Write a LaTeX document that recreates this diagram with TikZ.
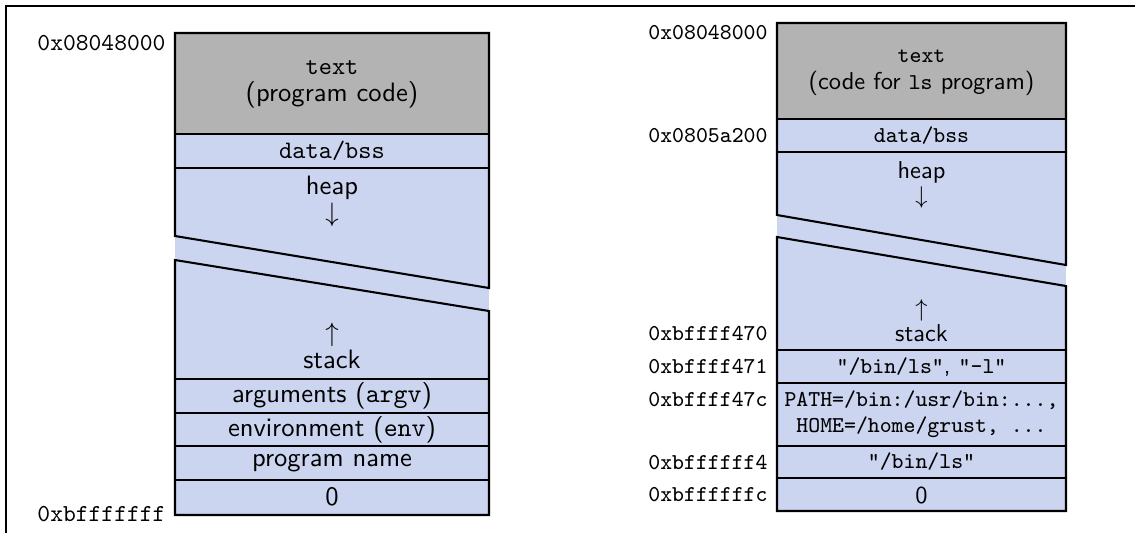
\documentclass[tikz,border=0pt]{standalone}
\definecolor{memblue}{RGB}{203,213,240}
\definecolor{memgray}{RGB}{179,179,179}
\newcommand{\rsz}{\fontsize{9.3}{11}\selectfont}
\newcommand{\lsf}{\fontsize{10.9}{11}\selectfont\sffamily}
\newcommand{\rsf}{\fontsize{10}{10.3}\selectfont\sffamily}
\begin{document}
\begin{tikzpicture}[x=0.41pt,y=-0.41pt,
  outline/.style={line width=0.85pt, line join=miter},
  sep/.style={line width=0.45pt},
  frameline/.style={line width=0.45pt},
  lbl/.style={anchor=east, inner sep=0pt, font=\ttfamily},
  rlbl/.style={anchor=east, inner sep=0pt, font=\rsz\ttfamily},
  seg/.style={inner sep=0pt, font=\lsf, align=center},
  rseg/.style={inner sep=0pt, font=\rsf, align=center},
  segtt/.style={inner sep=0pt, font=\fontsize{10.3}{12}\selectfont\ttfamily, align=center},
  rsegtt/.style={inner sep=0pt, font=\rsz\ttfamily, align=center}]
\useasboundingbox (0,0) rectangle (1135,533);
% page frame
\coordinate (fa) at (6,533);
\coordinate (fb) at (6,6);
\coordinate (fc) at (1135,6);
\draw[frameline] (fa) -- (fb) -- (fc);

% ===== left diagram =====
\fill[memblue] (175,134) rectangle (489,515);
\fill[memgray] (175,33) rectangle (489,134);
\draw[outline] (175,236) -- (175,33) -- (489,33) -- (489,288) -- cycle;
\draw[outline] (175,134) -- (489,134);
\draw[outline] (175,168) -- (489,168);
\draw[outline] (175,260) -- (175,515) -- (489,515) -- (489,311) -- cycle;
\foreach \yy in {379,413,446,480} \draw[sep] (175,\yy) -- (489,\yy);

\node[segtt] (ltext1) at (332,68) {text};
\node[seg] (ltext2) at (332,95) {(program code)};
\node[segtt] (ldata) at (332,151) {data/bss};
\node[seg] (lheap) at (332,201) {heap\\$\downarrow$};
\node[seg] (lstack) at (332,346) {$\uparrow$\\stack};
\node[seg] (largs) at (332,396) {arguments (\texttt{argv})};
\node[seg] (lenv) at (332,430) {environment (\texttt{env})};
\node[seg] (lprog) at (332,463) {program name};
\node[seg] (lzero) at (332,497) {0};

\node[lbl] (la1) at (166,43) {0x08048000};
\node[lbl] (la2) at (166,514) {0xbfffffff};

% ===== right diagram =====
\fill[memblue] (777,119) rectangle (1066,511);
\fill[memgray] (777,23) rectangle (1066,119);
\draw[outline] (777,215) -- (777,23) -- (1066,23) -- (1066,265) -- cycle;
\draw[outline] (777,119) -- (1066,119);
\draw[outline] (777,152) -- (1066,152);
\draw[outline] (777,237) -- (777,511) -- (1066,511) -- (1066,286) -- cycle;
\foreach \yy in {350,383,446,478} \draw[sep] (777,\yy) -- (1066,\yy);

\node[rsegtt] (rtext1) at (921.5,56) {text};
\node[rseg] (rtext2) at (921.5,83) {(code for {\rsz\texttt{ls}} program)};
\node[rsegtt] (rdata) at (921.5,136) {data/bss};
\node[rseg] (rheap) at (921.5,185) {heap\\$\downarrow$};
\node[rseg] (rstack) at (921.5,321) {$\uparrow$\\stack};
\node[rseg] (rargs) at (921.5,367) {{\rsz\texttt{"/bin/ls"}}, {\rsz\texttt{"-l"}}};
\node[rsegtt] (renv1) at (921.5,400) {PATH=/bin:/usr/bin:...,};
\node[rsegtt] (renv2) at (921.5,427) {HOME=/home/grust, ...};
\node[rsegtt] (rprog) at (921.5,462) {"/bin/ls"};
\node[rseg] (rzero) at (921.5,495) {0};

\node[rlbl] (ra1) at (768,33) {0x08048000};
\node[rlbl] (ra2) at (768,136) {0x0805a200};
\node[rlbl] (ra3) at (768,334) {0xbffff470};
\node[rlbl] (ra4) at (768,367) {0xbffff471};
\node[rlbl] (ra5) at (768,400) {0xbffff47c};
\node[rlbl] (ra6) at (768,463) {0xbffffff4};
\node[rlbl] (ra7) at (768,495) {0xbffffffc};
\end{tikzpicture}
\end{document}
